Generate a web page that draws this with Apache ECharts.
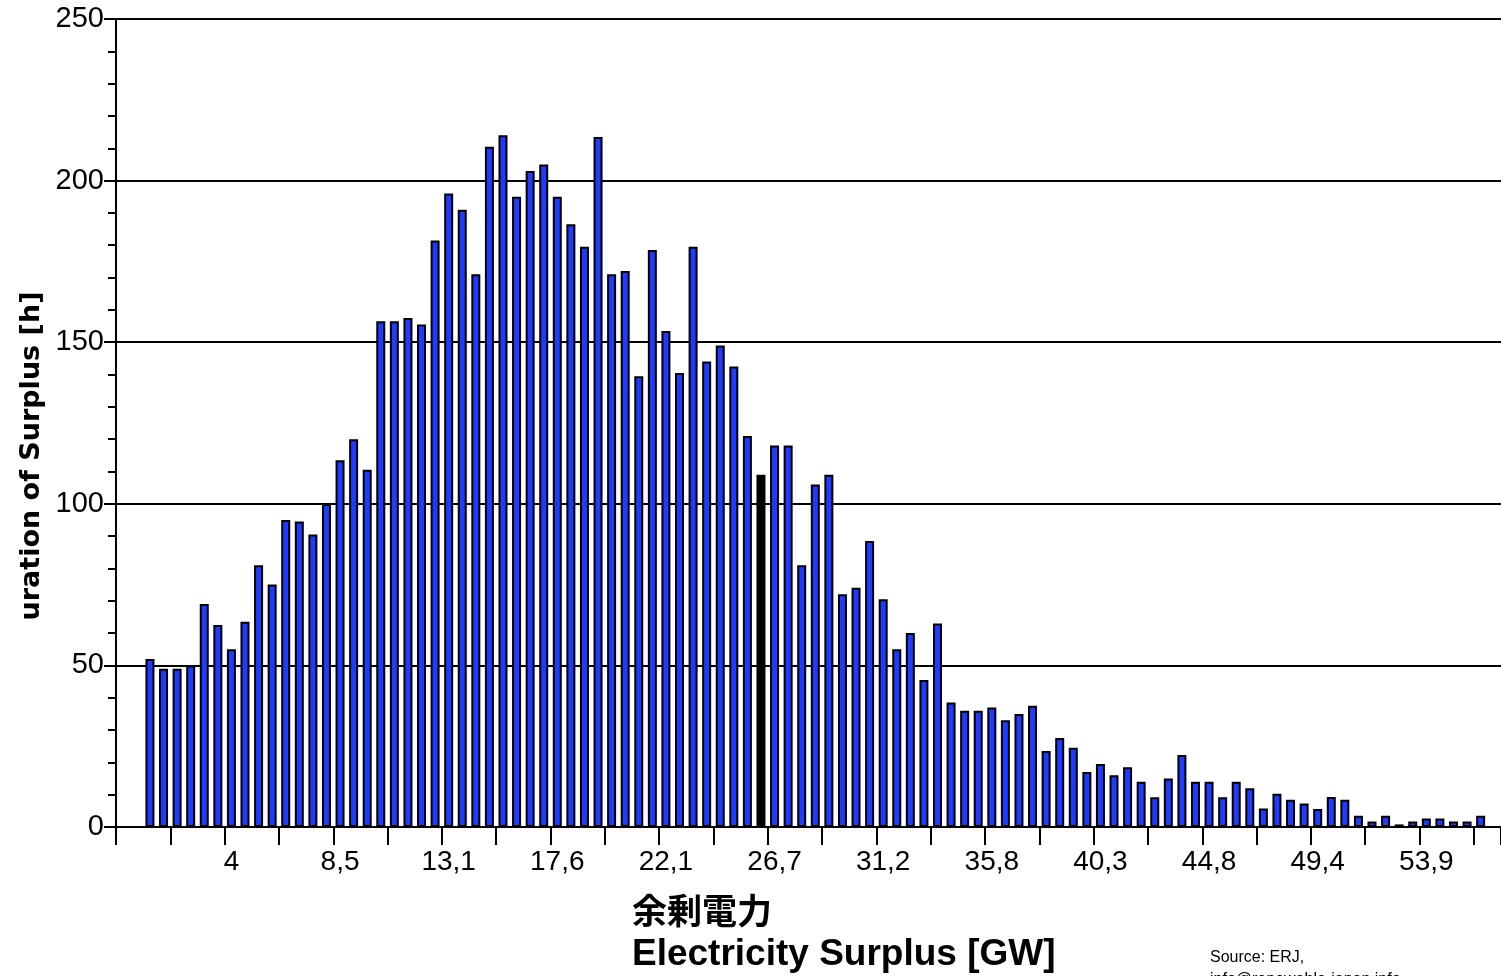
<!DOCTYPE html>
<html>
<head>
<meta charset="utf-8">
<script src="https://cdn.jsdelivr.net/npm/echarts@6/dist/echarts.min.js"></script>
<style>
  html, body { margin: 0; padding: 0; background: #fff; }
  #chart { width: 1501px; height: 976px; }
</style>
</head>
<body>
<div id="chart"></div>
<script>
// Bin index of each category (102 bins on the axis; first two and last are empty)
const binCount = 102;
// Tick labels shown every 8th bin, starting at bin 8
const tickLabels = ['4', '8,5', '13,1', '17,6', '22,1', '26,7', '31,2', '35,8', '40,3', '44,8', '49,4', '53,9'];
const labelEvery = 8;
// Duration of surplus [h] per bin
const hours = [
  null, null,
  52, 49, 49, 50, 69, 62.5, 55, 63.5, 81, 75,
  95, 94.5, 90.5, 100, 113.5, 120, 110.5, 156.5, 156.5, 157.5,
  155.5, 181.5, 196, 191, 171, 210.5, 214, 195, 203, 205,
  195, 186.5, 179.5, 213.5, 171, 172, 139.5, 178.5, 153.5, 140.5,
  179.5, 144, 149, 142.5, 121, 109, 118, 118, 81, 106,
  109, 72, 74, 88.5, 70.5, 55, 60, 45.5, 63, 38.5,
  36, 36, 37, 33, 35, 37.5, 23.5, 27.5, 24.5, 17,
  19.5, 16, 18.5, 14, 9.2, 15, 22.3, 14, 14, 9.2,
  14, 12, 5.7, 10.3, 8.4, 7.3, 5.6, 9.3, 8.4, 3.5,
  1.7, 3.5, 0.8, 1.7, 2.6, 2.6, 1.7, 1.7, 3.5,
  null
];
const blackBarIndex = 47; // this bar is drawn solid black in the reference

const categories = [];
for (let i = 0; i < binCount; i++) categories.push(String(i));

const chart = echarts.init(document.getElementById('chart'), null, { renderer: 'canvas' });
const labelFont = 'Liberation Sans';

chart.setOption({
  animation: false,
  backgroundColor: '#ffffff',
  grid: { left: 116, top: 19, width: 1388, height: 808, containLabel: false },
  xAxis: {
    type: 'category',
    data: categories,
    boundaryGap: true,
    axisLine: { show: true, lineStyle: { color: '#000', width: 2 } },
    axisTick: { show: true, interval: 3, length: 18, lineStyle: { color: '#000', width: 2 } },
    axisLabel: {
      interval: function (index) { return index > 0 && index % labelEvery === 0; },
      formatter: function (value, index) {
        const k = index / labelEvery - 1;
        return tickLabels[k] !== undefined ? tickLabels[k] : '';
      },
      color: '#000', fontSize: 28, fontFamily: labelFont, margin: 21
    },
    splitLine: { show: false }
  },
  yAxis: {
    type: 'value',
    min: 0, max: 250, interval: 50,
    axisLine: { show: true, lineStyle: { color: '#000', width: 2 } },
    axisTick: { show: true, length: 12, lineStyle: { color: '#000', width: 2 } },
    minorTick: { show: true, splitNumber: 5, length: 8, lineStyle: { color: '#000', width: 2 } },
    axisLabel: { color: '#000', fontSize: 29, fontFamily: labelFont, margin: 12 },
    splitLine: { show: true, lineStyle: { color: '#000', width: 2 } }
  },
  series: [{
    type: 'bar',
    data: hours,
    barWidth: 9,
    itemStyle: {
      color: function (p) { return p.dataIndex === blackBarIndex ? '#000000' : '#1f3bff'; },
      borderColor: '#000',
      borderWidth: 2
    }
  }],
  graphic: [
    {
      type: 'text', x: 32, y: 456, rotation: Math.PI / 2,
      style: { text: 'uration of Surplus [h]', fill: '#000', font: 'bold 27px "DejaVu Sans"', align: 'center', verticalAlign: 'middle' }
    },
    {
      type: 'text', x: 632, y: 911,
      style: { text: '余剰電力', fill: '#000', font: 'bold 35px "Noto Sans CJK JP"', align: 'left', verticalAlign: 'middle' }
    },
    {
      type: 'text', x: 632, y: 955,
      style: { text: 'Electricity Surplus [GW]', fill: '#000', font: 'bold 37px "Liberation Sans"', align: 'left', verticalAlign: 'middle' }
    },
    {
      type: 'text', x: 1210, y: 958,
      style: { text: 'Source: ERJ,', fill: '#000', font: '16px "Liberation Sans"', align: 'left', verticalAlign: 'middle' }
    },
    {
      type: 'text', x: 1210, y: 980,
      style: { text: 'info@renewable-japan.info', fill: '#000', font: '16px "Liberation Sans"', align: 'left', verticalAlign: 'middle' }
    }
  ]
});
</script>
</body>
</html>
